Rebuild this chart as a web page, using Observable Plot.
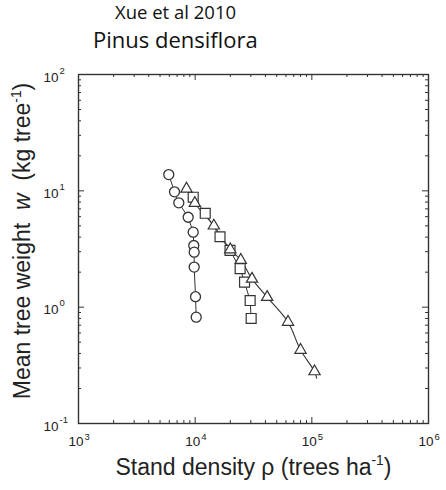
<!DOCTYPE html>
<html><head><meta charset="utf-8">
<script src="https://cdn.jsdelivr.net/npm/d3@7"></script>
<script src="https://cdn.jsdelivr.net/npm/@observablehq/plot@0.6"></script>
<style>
body{margin:0;background:#fff;width:446px;height:490px;overflow:hidden}
#head{position:relative;height:55px;font-family:"Open Sans",sans-serif;color:#111}
#head div{position:absolute;line-height:1;white-space:nowrap}
#t1{left:115px;top:3px;font-size:18.5px}
#t2{left:93px;top:28px;font-size:22px}
#chart svg{display:block}
</style></head><body>
<div id="head"><div id="t1">Xue et al 2010</div><div id="t2">Pinus densiflora</div></div>
<div id="chart"></div>
<script>
// Circles (one stand)
const circleRho = [5940, 6650, 7240, 8710, 9620, 9730, 9810, 9810, 10070, 10210];
const circleW   = [13.8, 9.8, 7.89, 5.93, 4.41, 3.39, 2.97, 2.21, 1.23, 0.82];
// Squares
const squareRho = [9620, 12200, 16330, 19900, 24300, 26500, 29600, 30200];
const squareW   = [8.81, 6.41, 4.03, 3.08, 2.14, 1.64, 1.14, 0.80];
// Triangles
const triRho = [8430, 9930, 14460, 20000, 24600, 30700, 41400, 62500, 80000, 105500];
const triW   = [10.4, 7.83, 5.01, 3.13, 2.54, 1.75, 1.22, 0.745, 0.428, 0.28];
// Fitted curve through the triangles
const fitRho = [8430, 9930, 14460, 20000, 24600, 30700, 41400, 62500, 80000, 105500, 110000];
const fitW   = [10.4, 7.83, 5.01, 3.13, 2.54, 1.75, 1.22, 0.745, 0.428, 0.28, 0.245];
// Axis ticks and labels
const xMajor = [1e3, 1e4, 1e5, 1e6];
const xExp = ["3", "4", "5", "6"];
const yMajor = [0.1, 1, 10, 100];
const yExp = ["-1", "0", "1", "2"];
const xLabel = "Stand density \u03c1 (trees ha{s:-1})";
const yLabel = "Mean tree weight  {i:w}  (kg tree{s:-1})";

const W = 446, H = 435, ML = 78, MR = 18, MT = 19, MB = 67;
const innerW = W - ML - MR, innerH = H - MT - MB;
const ink = "#333";
const majorLen = 6, minorLen = 3;
const xMinor = [3, 4, 5].flatMap(e => [2,3,4,5,6,7,8,9].map(m => m * 10 ** e));
const yMinor = [-1, 0, 1].flatMap(e => [2,3,4,5,6,7,8,9].map(m => m * 10 ** e));

const table = (xs, ys) => xs.map((x, i) => ({x, y: ys[i]}));
const circles = table(circleRho, circleW);
const squares = table(squareRho, squareW);
const tris = table(triRho, triW);
const fit = table(fitRho, fitW);

const tickFont = 13.5, expFont = 9.5, labFont = 23;

const chart = Plot.plot({
  width: W, height: H,
  marginLeft: ML, marginRight: MR, marginTop: MT, marginBottom: MB,
  style: {fontFamily: "'Liberation Sans', Arial, sans-serif", color: "#222", background: "#fff", overflow: "visible"},
  x: {type: "log", domain: [1e3, 1e6], axis: null},
  y: {type: "log", domain: [0.1, 100], axis: null},
  marks: [
    // inward ticks on four sides
    Plot.tickX(xMajor, {x: d => d, insetTop: innerH - majorLen, stroke: ink}),
    Plot.tickX(xMajor, {x: d => d, insetBottom: innerH - majorLen, stroke: ink}),
    Plot.tickX(xMinor, {x: d => d, insetTop: innerH - minorLen, stroke: ink}),
    Plot.tickX(xMinor, {x: d => d, insetBottom: innerH - minorLen, stroke: ink}),
    Plot.tickY(yMajor, {y: d => d, insetRight: innerW - majorLen, stroke: ink}),
    Plot.tickY(yMajor, {y: d => d, insetLeft: innerW - majorLen, stroke: ink}),
    Plot.tickY(yMinor, {y: d => d, insetRight: innerW - minorLen, stroke: ink}),
    Plot.tickY(yMinor, {y: d => d, insetLeft: innerW - minorLen, stroke: ink}),
    Plot.frame({stroke: ink, strokeWidth: 1.4}),
    // tick labels
    Plot.text(xMajor, {x: d => d, text: () => "10", frameAnchor: "bottom", dy: 22, dx: 5, textAnchor: "end", fontSize: tickFont}),
    Plot.text(xMajor, {x: d => d, text: (d, i) => xExp[i], frameAnchor: "bottom", dy: 16, dx: 6, textAnchor: "start", fontSize: expFont}),
    Plot.text(yMajor, {y: d => d, text: () => "10", frameAnchor: "left", dx: -20, dy: 3, textAnchor: "end", fontSize: tickFont}),
    Plot.text(yMajor, {y: d => d, text: (d, i) => yExp[i], frameAnchor: "left", dx: -19, dy: -4, textAnchor: "start", fontSize: expFont}),
    // axis labels
    Plot.text([xLabel], {text: d => d, frameAnchor: "bottom", textAnchor: "middle", dy: 51, fontSize: labFont}),
    Plot.text([yLabel], {text: d => d, frameAnchor: "left", textAnchor: "middle", dx: -56, dy: -8, rotate: -90, fontSize: labFont}),
    // data lines
    Plot.line(circles, {x: "x", y: "y", stroke: ink, strokeWidth: 1}),
    Plot.line(squares, {x: "x", y: "y", stroke: ink, strokeWidth: 1}),
    Plot.line(fit, {x: "x", y: "y", stroke: ink, strokeWidth: 1.1, curve: "catmull-rom"}),
    // data symbols
    Plot.dot(circles, {x: "x", y: "y", r: 5, fill: "white", stroke: ink, strokeWidth: 1.3}),
    Plot.dot(squares, {x: "x", y: "y", r: 5.6, symbol: "square", fill: "white", stroke: ink, strokeWidth: 1.2}),
    Plot.dot(tris, {x: "x", y: "y", r: 4.2, symbol: "triangle", fill: "white", stroke: ink, strokeWidth: 1.2})
  ]
});

// rich text: italic and superscript segments
function richText(svg) {
  d3.select(svg).selectAll("text").each(function () {
    const t = this.textContent;
    if (!/\{[is]:/.test(t)) return;
    const fs = parseFloat(this.getAttribute("font-size")) || parseFloat(this.parentNode.getAttribute("font-size")) || labFont;
    const el = d3.select(this);
    el.text(null).style("white-space", "pre");
    const re = /\{([is]):([^}]*)\}/g;
    let last = 0, m;
    const parts = [];
    while ((m = re.exec(t))) {
      if (m.index > last) parts.push(["n", t.slice(last, m.index)]);
      parts.push([m[1], m[2]]);
      last = re.lastIndex;
    }
    if (last < t.length) parts.push(["n", t.slice(last)]);
    let raised = false;
    for (const [k, s] of parts) {
      const ts = el.append("tspan").text(s);
      if (k === "i") ts.attr("font-style", "italic");
      if (k === "s") {
        ts.attr("font-size", fs * 0.6).attr("dy", -fs * 0.4);
        raised = true;
      } else if (raised) {
        ts.attr("dy", fs * 0.4);
        raised = false;
      }
    }
  });
}
richText(chart);
document.getElementById("chart").append(chart);
</script>
</body></html>
